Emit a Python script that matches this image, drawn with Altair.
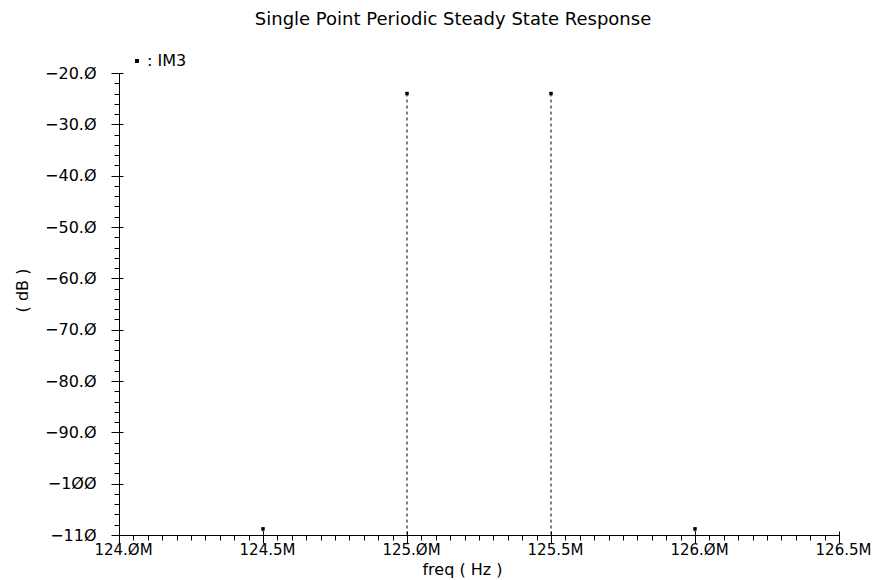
import altair as alt
import pandas as pd

# ---- data ----
freq_mhz = [124.5, 125.0, 125.5, 126.0]
im3_db = [-108.8, -24.0, -24.0, -108.8]
series = ["IM3", "IM3", "IM3", "IM3"]

x_major = [124.0, 124.5, 125.0, 125.5, 126.0, 126.5]
x_major_labels = ["124.ØM", "124.5M", "125.ØM", "125.5M", "126.ØM", "126.5M"]
x_minor = [124.0, 124.05, 124.1, 124.15, 124.2, 124.25, 124.3, 124.35, 124.4, 124.45,
           124.5, 124.55, 124.6, 124.65, 124.7, 124.75, 124.8, 124.85, 124.9, 124.95,
           125.0, 125.05, 125.1, 125.15, 125.2, 125.25, 125.3, 125.35, 125.4, 125.45,
           125.5, 125.55, 125.6, 125.65, 125.7, 125.75, 125.8, 125.85, 125.9, 125.95,
           126.0, 126.05, 126.1, 126.15, 126.2, 126.25, 126.3, 126.35, 126.4, 126.45, 126.5]
y_major = [-20, -30, -40, -50, -60, -70, -80, -90, -100, -110]
y_major_labels = ["−20.Ø", "−30.Ø", "−40.Ø", "−50.Ø", "−60.Ø", "−70.Ø",
                  "−80.Ø", "−90.Ø", "−1ØØ", "−11Ø"]
y_minor = [-110, -108, -106, -104, -102, -100, -98, -96, -94, -92, -90, -88, -86, -84,
           -82, -80, -78, -76, -74, -72, -70, -68, -66, -64, -62, -60, -58, -56, -54,
           -52, -50, -48, -46, -44, -42, -40, -38, -36, -34, -32, -30, -28, -26, -24,
           -22, -20]

df = pd.DataFrame({"freq": freq_mhz, "db": im3_db, "series": series})

FONT = "DejaVu Sans"


def label_expr(values, labels):
    expr = "''"
    for v, l in reversed(list(zip(values, labels))):
        expr = f"datum.value == {v} ? '{l}' : ({expr})"
    return expr


xs = alt.Scale(domain=[124.0, 126.5], nice=False, zero=False)
ys = alt.Scale(domain=[-110, -20], nice=False, zero=False)

W, H = 720, 462

# main axes: labels, titles, domain, major ticks
x_main = alt.Axis(values=x_major, labelExpr=label_expr(x_major, x_major_labels),
                  orient="bottom", grid=False, tickSize=8, tickColor="black",
                  domainColor="black", labelColor="black", labelFont=FONT,
                  labelFontSize=15, labelPadding=-1, labelOffset=4, labelFlush=False,
                  labelOverlap=False,
                  title="freq ( Hz )", titleFont=FONT, titleFontSize=16,
                  titleFontWeight="normal", titleColor="black",
                  titleX=343, titleY=42, titleBaseline="bottom")
y_main = alt.Axis(values=y_major, labelExpr=label_expr(y_major, y_major_labels),
                  orient="left", grid=False, tickSize=8, tickColor="black",
                  domainColor="black", labelColor="black", labelFont=FONT,
                  labelFontSize=16, labelPadding=15, labelFlush=False,
                  labelOverlap=False,
                  title="( dB )", titleFont=FONT, titleFontSize=16,
                  titleFontWeight="normal", titleColor="black",
                  titleX=-97, titleY=217, titleBaseline="middle")

rules = alt.Chart(df).mark_rule(color="black", strokeDash=[3, 3], strokeWidth=1).encode(
    x=alt.X("freq:Q", scale=xs, axis=x_main),
    y=alt.Y("db:Q", scale=ys, axis=y_main),
    y2=alt.datum(-110),
)

# minor ticks
x_minor_ax = alt.Axis(values=x_minor, orient="bottom", labels=False, domain=False,
                      grid=False, tickSize=5, tickColor="black", title=None)
y_minor_ax = alt.Axis(values=y_minor, orient="left", labels=False, domain=False,
                      grid=False, tickSize=5, tickColor="black", title=None)

points = alt.Chart(df).mark_point(shape="square", filled=True, size=12, opacity=1).encode(
    x=alt.X("freq:Q", scale=xs, axis=x_minor_ax),
    y=alt.Y("db:Q", scale=ys, axis=y_minor_ax),
    color=alt.Color("series:N", scale=alt.Scale(range=["black"]),
                    legend=alt.Legend(orient="none", legendX=10, legendY=-20,
                                      title=None, symbolType="square", symbolSize=6,
                                      symbolFillColor="black", symbolStrokeColor="black",
                                      labelExpr="': ' + datum.label",
                                      labelFont=FONT, labelFontSize=16,
                                      labelColor="black", labelOffset=2)),
)

# inward stubs of major ticks
x_in_ax = alt.Axis(values=x_major, orient="top", offset=-H, labels=False, domain=False,
                   grid=False, tickSize=4, tickColor="black", title=None)
y_in_ax = alt.Axis(values=y_major, orient="right", offset=-W, labels=False, domain=False,
                   grid=False, tickSize=4, tickColor="black", title=None)

stubs = alt.Chart(df).mark_point(opacity=0).encode(
    x=alt.X("freq:Q", scale=xs, axis=x_in_ax),
    y=alt.Y("db:Q", scale=ys, axis=y_in_ax),
)

chart = alt.layer(rules, points, stubs).resolve_axis(
    x="independent", y="independent"
).properties(
    width=W, height=H,
    title=alt.TitleParams("Single Point Periodic Steady State Response", font=FONT,
                          fontSize=18, fontWeight="normal", color="black",
                          anchor="middle", dx=-26, offset=24),
    autosize=alt.AutoSizeParams(type="none"),
    padding={"left": 111, "top": 65, "right": 33, "bottom": 44},
    background="white",
).configure_view(stroke=None)

chart.save("out.html", embed_options={"renderer": "svg", "actions": False})
